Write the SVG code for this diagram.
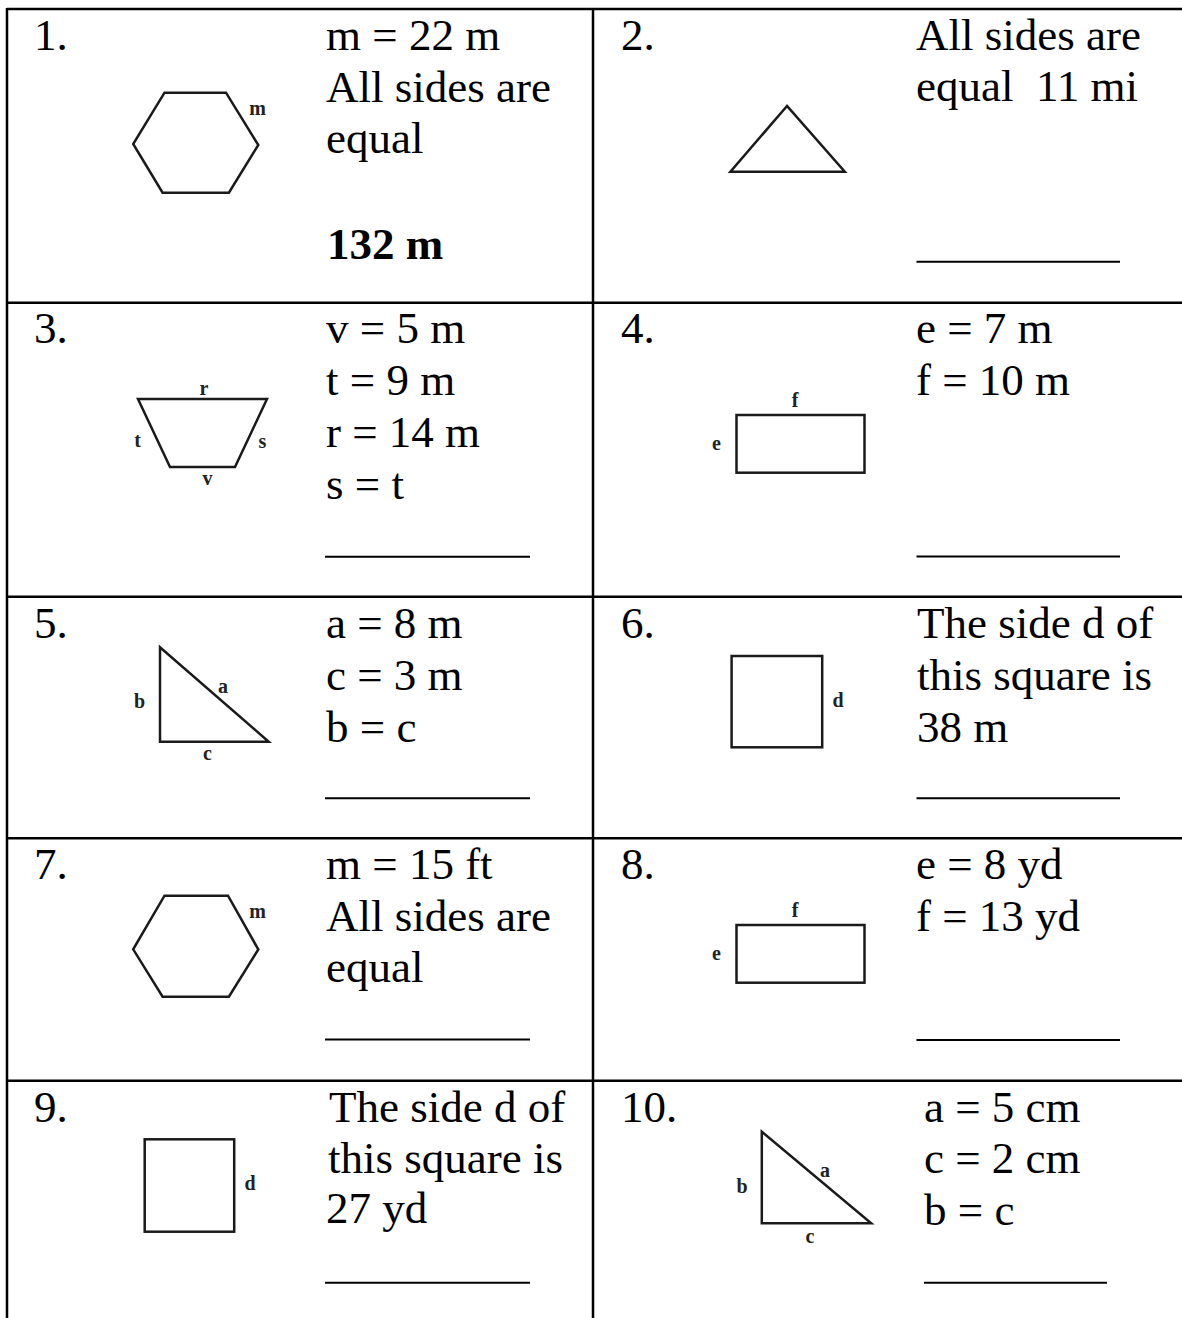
<svg xmlns="http://www.w3.org/2000/svg" width="1182" height="1318" viewBox="0 0 1182 1318">
<style>
.t{font-family:"Liberation Serif","Times New Roman",serif;font-size:45px;fill:#000}
.b{font-weight:bold}
.l{font-family:"Liberation Serif","Times New Roman",serif;font-size:20px;font-weight:bold;fill:#222;text-anchor:middle}
.shape{fill:none;stroke:#1a1a1a;stroke-width:2.5;stroke-linejoin:miter}
.ans{stroke:#000;stroke-width:2}
.grid{stroke:#000;stroke-width:2.5}
</style>
<rect width="1182" height="1318" fill="#fff"/>
<g id="grid" class="grid">
<line x1="7" y1="9" x2="1182" y2="9"/>
<line x1="7" y1="302.7" x2="1182" y2="302.7"/>
<line x1="7" y1="596.7" x2="1182" y2="596.7"/>
<line x1="7" y1="838.3" x2="1182" y2="838.3"/>
<line x1="7" y1="1080.7" x2="1182" y2="1080.7"/>
<line x1="7" y1="8" x2="7" y2="1318"/>
<line x1="593" y1="8" x2="593" y2="1318"/>
</g>
<g id="cell1">
<text class="t" x="34" y="50">1.</text>
<polygon class="shape" stroke-width="2" points="164.5,92.7 226,92.7 258.3,145 228.9,192.7 162.6,192.7 133.2,144"/>
<text class="l" x="257.5" y="115">m</text>
<text class="t" x="326" y="50">m = 22 m</text>
<text class="t" x="326" y="101.5">All sides are</text>
<text class="t" x="326" y="153">equal</text>
<text class="t b" x="327" y="259">132 m</text>
</g>
<g id="cell2">
<text class="t" x="621" y="50">2.</text>
<polygon class="shape" stroke-width="2" points="787,106 730.4,171.7 844.8,171.7"/>
<text class="t" x="916" y="50">All sides are</text>
<text class="t" x="916" y="101" style="white-space:pre" xml:space="preserve">equal  11 mi</text>
<line class="ans" x1="916.5" y1="261.7" x2="1120" y2="261.7"/>
</g>
<g id="cell3">
<text class="t" x="34" y="343">3.</text>
<polygon class="shape" points="138,399 267,399 235,467 170,467"/>
<text class="l" x="204" y="395">r</text>
<text class="l" x="137.5" y="447">t</text>
<text class="l" x="262.5" y="448">s</text>
<text class="l" x="207.5" y="485">v</text>
<text class="t" x="326" y="343">v = 5 m</text>
<text class="t" x="326" y="395">t = 9 m</text>
<text class="t" x="326" y="447">r = 14 m</text>
<text class="t" x="326" y="499">s = t</text>
<line class="ans" x1="325" y1="556.7" x2="530" y2="556.7"/>
</g>
<g id="cell4">
<text class="t" x="621" y="343">4.</text>
<rect class="shape" x="736.5" y="415" width="128" height="57.7"/>
<text class="l" x="795" y="406.7">f</text>
<text class="l" x="716.5" y="450">e</text>
<text class="t" x="916" y="343">e = 7 m</text>
<text class="t" x="916" y="395">f = 10 m</text>
<line class="ans" x1="916.5" y1="556.5" x2="1120" y2="556.5"/>
</g>
<g id="cell5">
<text class="t" x="34" y="638">5.</text>
<polygon class="shape" stroke-width="3" points="160,647.3 160,741.7 268.7,741.7"/>
<text class="l" x="139.5" y="708">b</text>
<text class="l" x="223" y="693">a</text>
<text class="l" x="207.5" y="760">c</text>
<text class="t" x="326" y="638">a = 8 m</text>
<text class="t" x="326" y="689.5">c = 3 m</text>
<text class="t" x="326" y="741.5">b = c</text>
<line class="ans" x1="325" y1="798.3" x2="530" y2="798.3"/>
</g>
<g id="cell6">
<text class="t" x="621" y="638">6.</text>
<rect class="shape" x="731.6" y="656" width="90.6" height="91.3"/>
<text class="l" x="838" y="707">d</text>
<text class="t" x="917" y="638">The side d of</text>
<text class="t" x="917" y="689.5">this square is</text>
<text class="t" x="917" y="741.5">38 m</text>
<line class="ans" x1="916.5" y1="798.3" x2="1120" y2="798.3"/>
</g>
<g id="cell7">
<text class="t" x="34" y="878.5">7.</text>
<polygon class="shape" stroke-width="2" points="164.5,895.7 228,895.7 258.3,949.5 228.9,996.7 162.6,996.7 133.2,949.3"/>
<text class="l" x="257.5" y="918">m</text>
<text class="t" x="326" y="878.5">m = 15 ft</text>
<text class="t" x="326" y="931">All sides are</text>
<text class="t" x="326" y="982">equal</text>
<line class="ans" x1="325" y1="1039.5" x2="530" y2="1039.5"/>
</g>
<g id="cell8">
<text class="t" x="621" y="878.5">8.</text>
<rect class="shape" x="736.5" y="925" width="128" height="57.7"/>
<text class="l" x="795" y="916.7">f</text>
<text class="l" x="716.5" y="960">e</text>
<text class="t" x="916" y="878.5">e = 8 yd</text>
<text class="t" x="916" y="931">f = 13 yd</text>
<line class="ans" x1="916.5" y1="1040" x2="1120" y2="1040"/>
</g>
<g id="cell9">
<text class="t" x="34" y="1121.7">9.</text>
<rect class="shape" x="144.7" y="1139.3" width="89.5" height="92.4"/>
<text class="l" x="250" y="1190">d</text>
<text class="t" x="329" y="1121.7">The side d of</text>
<text class="t" x="328" y="1173.3">this square is</text>
<text class="t" x="326" y="1223.3">27 yd</text>
<line class="ans" x1="325" y1="1282.7" x2="530" y2="1282.7"/>
</g>
<g id="cell10">
<text class="t" x="621" y="1121.7">10.</text>
<polygon class="shape" stroke-width="3" points="761.8,1131.7 761.8,1223.3 871.2,1223.3"/>
<text class="l" x="742" y="1193">b</text>
<text class="l" x="825" y="1176.7">a</text>
<text class="l" x="810" y="1243">c</text>
<text class="t" x="924" y="1121.7">a = 5 cm</text>
<text class="t" x="924" y="1173.3">c = 2 cm</text>
<text class="t" x="924" y="1225">b = c</text>
<line class="ans" x1="924" y1="1282.7" x2="1107" y2="1282.7"/>
</g>
</svg>
